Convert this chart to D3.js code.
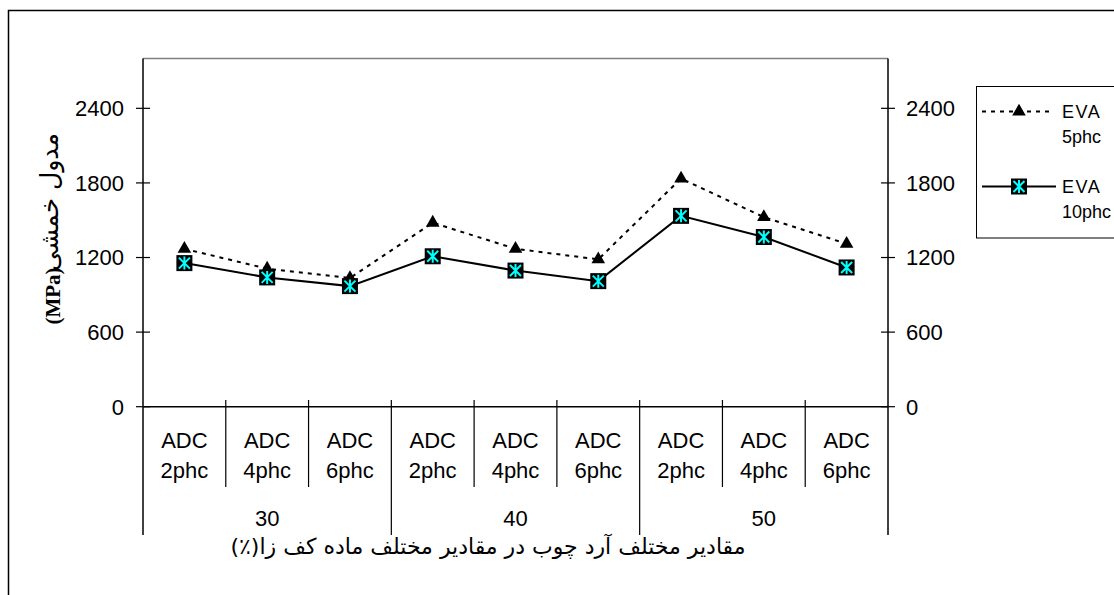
<!DOCTYPE html>
<html>
<head>
<meta charset="utf-8">
<script src="https://cdn.jsdelivr.net/npm/d3@7"></script>
<style>
  body { margin: 0; background: #fff; overflow: hidden; }
  svg { display: block; }
  text { font-family: "Liberation Sans", Arial, sans-serif; fill: #000; }
</style>
</head>
<body>
<svg id="grafico"></svg>
<script>
// data
const groups = ['30', '40', '50']
const adcLevels = ['2phc', '4phc', '6phc']
const eva5 = [1270, 1110, 1035, 1480, 1270, 1185, 1835, 1525, 1310]
const eva10 = [1155, 1040, 970, 1210, 1095, 1010, 1535, 1365, 1120]
const yTicks = [0, 600, 1200, 1800, 2400]
const seriesNames = [['EVA', '5phc'], ['EVA', '10phc']]
const yTitle = 'مدول خمشی'
const yUnit = '(MPa)'
const xTitle = 'مقادیر مختلف آرد چوب در مقادیر مختلف ماده کف زا(٪)'

const categories = []
groups.forEach(g => adcLevels.forEach(a => categories.push({ group: g, adc: 'ADC', level: a, key: g + '-' + a })))

const W = 1114, H = 595
const svg = d3.select('#grafico').attr('width', W).attr('height', H)

const plotL = 143, plotR = 888, plotT = 58.6, plotB = 406.7

const x = d3.scaleBand().domain(categories.map(d => d.key)).range([plotL, plotR])
const y = d3.scaleLinear().domain([0, 2800]).range([plotB, plotT])

// outer frame
svg.append('rect')
  .attr('x', 8.5).attr('y', 10.5).attr('width', 1200).attr('height', 700)
  .attr('fill', 'none').attr('stroke', '#000').attr('stroke-width', 1.5)

// plot area border (top edge grey)
svg.append('line')
  .attr('x1', plotL).attr('x2', plotR).attr('y1', plotT).attr('y2', plotT)
  .attr('stroke', '#808080').attr('stroke-width', 1.5)

// left axis
const axL = svg.append('g').attr('transform', `translate(${plotL},0)`)
axL.append('line').attr('y1', plotT).attr('y2', 535).attr('stroke', '#000').attr('stroke-width', 1.5)
axL.selectAll('.tk').data(yTicks).enter().append('line')
  .attr('x1', -7).attr('x2', 7).attr('y1', d => y(d)).attr('y2', d => y(d))
  .attr('stroke', '#000').attr('stroke-width', 1.2)
axL.selectAll('.lb').data(yTicks).enter().append('text')
  .attr('x', -19).attr('y', d => y(d)).attr('dy', '0.36em')
  .attr('text-anchor', 'end').style('font-size', '22px')
  .text(d => d)

// right axis
const axR = svg.append('g').attr('transform', `translate(${plotR},0)`)
axR.append('line').attr('y1', plotT).attr('y2', 535).attr('stroke', '#000').attr('stroke-width', 1.5)
axR.selectAll('.tk').data(yTicks).enter().append('line')
  .attr('x1', -7).attr('x2', 7).attr('y1', d => y(d)).attr('y2', d => y(d))
  .attr('stroke', '#000').attr('stroke-width', 1.2)
axR.selectAll('.lb').data(yTicks).enter().append('text')
  .attr('x', 18).attr('y', d => y(d)).attr('dy', '0.36em')
  .attr('text-anchor', 'start').style('font-size', '22px')
  .text(d => d)

// x axis line
svg.append('line').attr('x1', plotL).attr('x2', plotR).attr('y1', plotB).attr('y2', plotB)
  .attr('stroke', '#000').attr('stroke-width', 1.5)

// category dividers
categories.forEach((d, i) => {
  if (i == 0) return
  const isGroup = i % adcLevels.length == 0
  svg.append('line')
    .attr('x1', x(d.key)).attr('x2', x(d.key))
    .attr('y1', 400).attr('y2', isGroup ? 535 : 487)
    .attr('stroke', '#000').attr('stroke-width', 1.2)
})

// category labels
const cat = svg.selectAll('.cat').data(categories).enter().append('g')
  .attr('transform', d => `translate(${x(d.key) + x.bandwidth() / 2},0)`)
cat.append('text').attr('y', 448).attr('text-anchor', 'middle').style('font-size', '22px').text(d => d.adc)
cat.append('text').attr('y', 478).attr('text-anchor', 'middle').style('font-size', '22px').text(d => d.level)

// group labels
const gw = x.bandwidth() * adcLevels.length
svg.selectAll('.grp').data(groups).enter().append('text')
  .attr('x', (d, i) => plotL + gw * i + gw / 2).attr('y', 526)
  .attr('text-anchor', 'middle').style('font-size', '22px')
  .text(d => d)

// x title
svg.append('text')
  .attr('x', 488).attr('y', 554).attr('text-anchor', 'middle')
  .attr('direction', 'rtl')
  .style('font-family', '"DejaVu Sans", sans-serif').style('font-size', '22px')
  .text(xTitle)

// y title
const yt = svg.append('g').attr('transform', 'translate(58,0) rotate(-90)')
yt.append('text').attr('x', -202).attr('y', 0).attr('text-anchor', 'middle')
  .attr('direction', 'rtl')
  .style('font-family', '"DejaVu Sans", sans-serif').style('font-size', '25px')
  .text(yTitle)
yt.append('text').attr('x', -296).attr('y', 2).attr('text-anchor', 'middle')
  .style('font-family', '"Liberation Serif", serif').style('font-size', '21px').style('font-weight', 'bold')
  .text(yUnit)

// lines
const cx = i => x(categories[i].key) + x.bandwidth() / 2
const linha = d3.line().x((d, i) => cx(i)).y(d => y(d))

svg.append('path').datum(eva5).attr('d', linha)
  .attr('fill', 'none').attr('stroke', '#000').attr('stroke-width', 2).attr('stroke-dasharray', '4,5')
svg.append('path').datum(eva10).attr('d', linha)
  .attr('fill', 'none').attr('stroke', '#000').attr('stroke-width', 2)

// markers
const tri = d3.symbol().type(d3.symbolTriangle).size(80)
function drawTriangle(g) {
  g.append('path').attr('d', tri()).attr('fill', '#000')
}
function drawStarBox(g) {
  g.append('rect').attr('x', -8).attr('y', -8).attr('width', 16).attr('height', 16).attr('fill', '#000')
  g.append('path').attr('d', 'M0,-6.5V6.5M-5.5,-5.5L5.5,5.5M5.5,-5.5L-5.5,5.5')
    .attr('stroke', '#00ffff').attr('stroke-width', 2).attr('fill', 'none')
}

svg.selectAll('.m5').data(eva5).enter().append('g')
  .attr('transform', (d, i) => `translate(${cx(i)},${y(d)})`)
  .each(function () { drawTriangle(d3.select(this)) })
svg.selectAll('.m10').data(eva10).enter().append('g')
  .attr('transform', (d, i) => `translate(${cx(i)},${y(d)})`)
  .each(function () { drawStarBox(d3.select(this)) })

// legend (runs off the right edge)
const leg = svg.append('g')
leg.append('rect').attr('x', 976.5).attr('y', 86.5).attr('width', 300).attr('height', 151.5)
  .attr('fill', '#fff').attr('stroke', '#000').attr('stroke-width', 1)
const legY = [111.5, 186.5]
leg.append('line').attr('x1', 982).attr('x2', 1053).attr('y1', legY[0]).attr('y2', legY[0])
  .attr('stroke', '#000').attr('stroke-width', 2).attr('stroke-dasharray', '4,5')
leg.append('line').attr('x1', 982).attr('x2', 1056).attr('y1', legY[1]).attr('y2', legY[1])
  .attr('stroke', '#000').attr('stroke-width', 2)
drawTriangle(leg.append('g').attr('transform', `translate(1019,${legY[0]})`))
drawStarBox(leg.append('g').attr('transform', `translate(1019,${legY[1]})`))
seriesNames.forEach((s, i) => {
  leg.append('text').attr('x', 1062).attr('y', legY[i] + 6).style('font-size', '18px').style('letter-spacing', '1.5px').text(s[0])
  leg.append('text').attr('x', 1062).attr('y', legY[i] + 31).style('font-size', '18px').text(s[1])
})
</script>
</body>
</html>
